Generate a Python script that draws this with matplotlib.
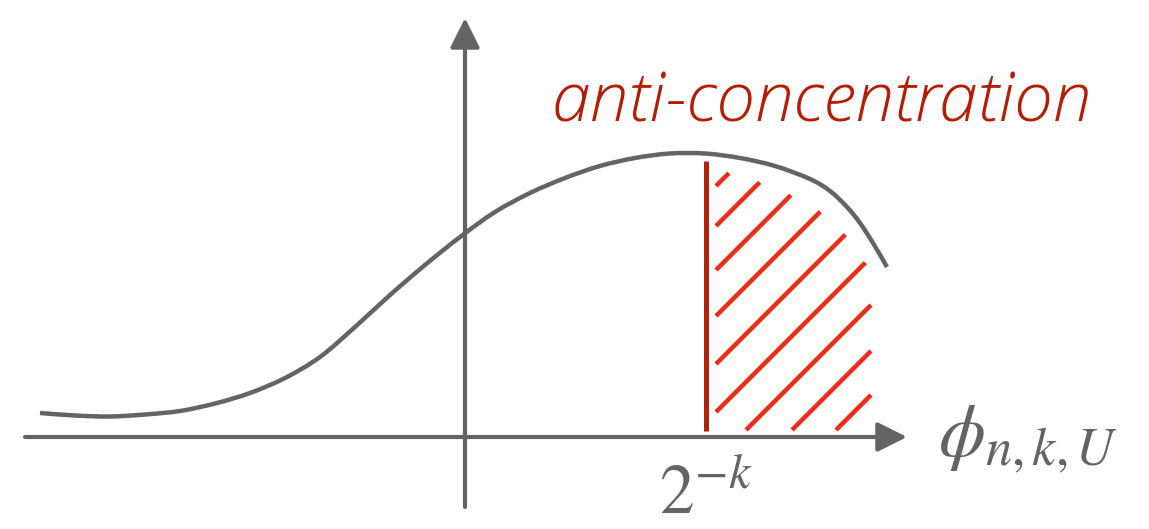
"""Anti-concentration sketch: bump-shaped density of phi_{n,k,U} with the tail beyond 2^-k hatched."""
import matplotlib
matplotlib.use("Agg")
import matplotlib.pyplot as plt
import numpy as np
from matplotlib.path import Path
from matplotlib.patches import PathPatch

GRAY = "#646464"
DARKRED = "#b3200c"
HATCH = "#ef2a16"
TEXTRED = "#b51c04"

# curve (origin at axis crossing, 1 unit = 100 px)
curve_x = [-4.25, -3.90, -3.55, -3.20, -2.85, -2.50, -2.15, -1.80, -1.45, -1.10,
           -0.75, -0.40, -0.05, 0.30, 0.65, 1.00, 1.35, 1.70, 2.05, 2.40,
           2.75, 3.10, 3.45, 3.65, 3.82, 3.95, 4.08, 4.22]
curve_y = [0.24, 0.215, 0.205, 0.225, 0.26, 0.335, 0.44, 0.59, 0.80, 1.10,
           1.42, 1.72, 2.00, 2.25, 2.44, 2.59, 2.71, 2.79, 2.835, 2.835,
           2.79, 2.71, 2.58, 2.46, 2.30, 2.14, 1.94, 1.70]

threshold = 2.41                      # position of 2^{-k}
hatch_offsets = [0.0, -0.40, -0.84, -1.30, -1.78, -2.26, -2.74, -3.20, -3.64]


def smooth_path(x, y):
    # Catmull-Rom through the points, written as cubic Bezier segments
    p = np.column_stack([x, y])
    verts, codes = [p[0]], [Path.MOVETO]
    for i in range(len(p) - 1):
        p0 = p[max(i - 1, 0)]
        p1, p2 = p[i], p[i + 1]
        p3 = p[min(i + 2, len(p) - 1)]
        verts += [p1 + (p2 - p0) / 6, p2 - (p3 - p1) / 6, p2]
        codes += [Path.CURVE4] * 3
    return Path(verts, codes)


plt.rcParams["mathtext.fontset"] = "stix"
fig = plt.figure(figsize=(11.49, 5.29), dpi=100)
ax = fig.add_axes([0, 0, 1, 1])
ax.set_xlim(-4.65, 6.84)
ax.set_ylim(-0.92, 4.37)
ax.axis("off")

# axes with arrow heads
arrow = dict(arrowstyle="-|>,head_length=0.4,head_width=0.2", mutation_scale=45,
             color=GRAY, lw=3.0, shrinkA=0, shrinkB=0)
ax.annotate("", xy=(4.42, 0.0), xytext=(-4.40, 0.0), arrowprops=arrow)
ax.annotate("", xy=(0.0, 4.19), xytext=(0.0, -0.70), arrowprops=arrow)

# density curve
ax.add_patch(PathPatch(smooth_path(curve_x, curve_y), fill=False, edgecolor=GRAY,
                       lw=3.2, capstyle="butt", zorder=3))

# threshold line
top = np.interp(threshold, curve_x, curve_y)
ax.plot([threshold, threshold], [0.06, top - 0.07], color=DARKRED, lw=3.6,
        solid_capstyle="butt", zorder=3)

# hatching of the tail region
left, right, bottom = threshold + 0.10, 4.06, 0.07
xs = np.linspace(left, right, 2000)
ceil = np.interp(xs, curve_x, curve_y) - (0.15 + 0.17 * (xs - left) / (right - left))
for b in hatch_offsets:
    ok = (xs + b >= bottom) & (xs + b <= ceil)
    if not ok.any():
        continue
    seg = xs[ok]
    ax.plot([seg[0], seg[-1]], [seg[0] + b, seg[-1] + b], color=HATCH, lw=3.2,
            solid_capstyle="butt", zorder=2)

# labels
ax.text(3.57, 3.16, "anti-concentration", color=TEXTRED, fontsize=50,
        family=["Open Sans", "DejaVu Sans"], style="italic", weight="light",
        ha="center", va="baseline")
ax.text(threshold, -0.77, r"$2^{-k}$", color=GRAY, fontsize=50,
        ha="center", va="baseline")
ax.text(4.73, -0.20, r"$\phi_{n,k,U}$", color=GRAY, fontsize=54,
        ha="left", va="baseline")

fig.savefig("out.png", dpi=100)
